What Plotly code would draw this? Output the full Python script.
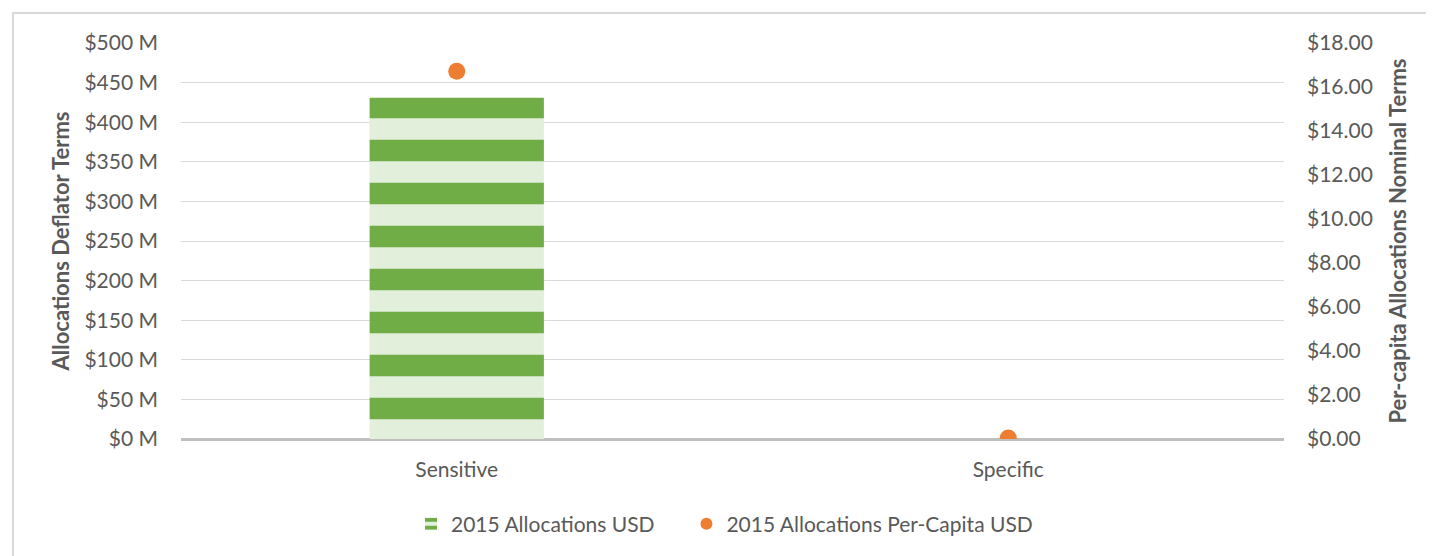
import plotly.graph_objects as go

categories = ["Sensitive", "Specific"]
allocations_usd_m = [431, None]
per_capita_usd = [16.72, 0.05]

left_ticks = [0, 50, 100, 150, 200, 250, 300, 350, 400, 450, 500]
left_labels = [f"${v} M" for v in left_ticks]
right_ticks = [0, 2, 4, 6, 8, 10, 12, 14, 16, 18]
right_labels = [f"${v:.2f}" for v in right_ticks]

FONT = "Lato, Calibri, sans-serif"
GREY = "#595959"
NBSP = "\u00a0"

fig = go.Figure()
fig.add_trace(go.Bar(
    x=categories, y=allocations_usd_m, name="2015 Allocations USD" + NBSP * 5,
    width=0.316,
    marker=dict(color="#e2efda", line=dict(width=0),
                pattern=dict(shape="-", fgcolor="#70ad47", bgcolor="#e2efda",
                             size=43, solidity=0.5, fillmode="replace")),
    yaxis="y",
))
fig.add_trace(go.Scatter(
    x=categories, y=per_capita_usd, name="2015 Allocations Per-Capita USD",
    mode="markers", marker=dict(color="#ed7d31", size=17),
    yaxis="y2",
))

W, H = 1434, 556
OFF = 8  # page offset of the figure
ml, mt = 181 - OFF, 43 - OFF
pw, ph = 1103, 396
mr, mb = W - ml - pw, H - mt - ph

fig.update_layout(
    width=W, height=H,
    margin=dict(l=ml, r=mr, t=mt, b=mb),
    paper_bgcolor="white", plot_bgcolor="white",
    font=dict(family=FONT, size=21, color=GREY),
    showlegend=True,
    legend=dict(orientation="h", x=(411 - 181) / pw, xanchor="left", y=-0.215, yanchor="middle",
                font=dict(size=21, color=GREY), itemsizing="constant"),
    xaxis=dict(showgrid=False, showline=False, ticks="", ticklabelstandoff=16,
               tickfont=dict(size=21, color=GREY)),
    yaxis=dict(range=[0, 500], tickvals=left_ticks, ticktext=left_labels,
               showgrid=True, gridcolor="#d9d9d9", gridwidth=1,
               zeroline=True, zerolinecolor="#bfbfbf", zerolinewidth=3,
               ticks="", ticklabelstandoff=22,
               tickfont=dict(size=21, color=GREY),
               title=dict(text="Allocations Deflator Terms", standoff=8,
                          font=dict(size=22, color=GREY, weight="bold"))),
    yaxis2=dict(range=[0, 18], tickvals=right_ticks, ticktext=right_labels,
                overlaying="y", side="right", showgrid=False, zeroline=False,
                ticks="", ticklabelstandoff=22,
                tickfont=dict(size=21, color=GREY),
                title=dict(text="Per-capita Allocations Nominal Terms", standoff=18,
                           font=dict(size=22, color=GREY, weight="bold"))),
    bargap=0.684,
)

# outer chart border (top and left visible)
x0 = (13 - 181) / pw
y1 = (439 - 13) / ph
fig.add_shape(type="rect", xref="paper", yref="paper",
              x0=x0, x1=1.6, y0=-0.6, y1=y1,
              line=dict(color="#d9d9d9", width=2), fillcolor="rgba(0,0,0,0)", layer="below")

fig.write_html("out.html")
